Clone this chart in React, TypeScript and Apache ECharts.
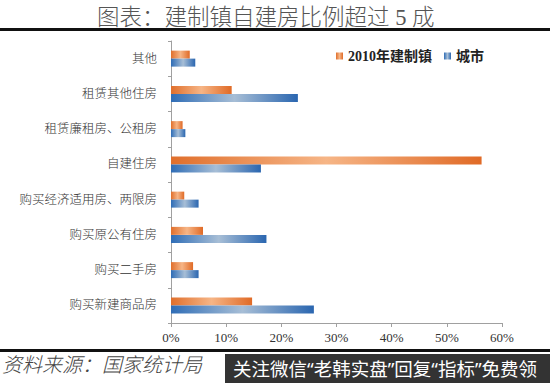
import React, { useEffect, useRef } from "react";
import * as echarts from "echarts";

const categories = [
  "购买新建商品房",
  "购买二手房",
  "购买原公有住房",
  "购买经济适用房、两限房",
  "自建住房",
  "租赁廉租房、公租房",
  "租赁其他住房",
  "其他",
];
const townValues = [14.7, 4.0, 5.8, 2.4, 56.3, 2.1, 11.0, 3.4];
const cityValues = [25.9, 5.0, 17.3, 5.0, 16.3, 2.6, 23.0, 4.4];
const xTicks = [0, 10, 20, 30, 40, 50, 60];
const seriesNames = ["2010年建制镇", "城市"];

const serif = "'Liberation Serif', 'DejaVu Serif', 'Noto Sans CJK SC', serif";

export default function App() {
  const ref = useRef<HTMLDivElement>(null);
  useEffect(() => {
    document.body.style.margin = "0";
    if (!ref.current) return;
    const chart = echarts.init(ref.current, undefined, { renderer: "svg" });
    const orange = new echarts.graphic.LinearGradient(0, 0, 1, 0, [
      { offset: 0, color: "#E06F2C" },
      { offset: 0.5, color: "#F6B586" },
      { offset: 1, color: "#E06A26" },
    ]);
    const blue = new echarts.graphic.LinearGradient(0, 0, 1, 0, [
      { offset: 0, color: "#2F6DB6" },
      { offset: 0.5, color: "#A7BED6" },
      { offset: 1, color: "#2A66B0" },
    ]);
    chart.setOption({
      animation: false,
      backgroundColor: "#ffffff",
      title: {
        text: "图表：建制镇自建房比例超过 5 成",
        left: 92,
        top: 1,
        textStyle: {
          fontFamily: serif,
          fontSize: 22.5,
          fontWeight: 300,
          color: "#555",
        },
      },
      legend: {
        data: seriesNames,
        left: 331,
        top: 44,
        itemWidth: 7,
        itemHeight: 7,
        itemGap: 12,
        icon: "rect",
        textStyle: {
          fontFamily: serif,
          fontSize: 14,
          fontWeight: "bold",
          color: "#222",
        },
      },
      grid: { left: 171, right: 48, top: 41, bottom: 60 },
      xAxis: {
        type: "value",
        min: xTicks[0],
        max: xTicks[xTicks.length - 1],
        interval: 10,
        splitLine: { show: false },
        axisLine: { show: true, lineStyle: { color: "#A0A0A0" } },
        axisTick: { show: true, length: 4, lineStyle: { color: "#A0A0A0" } },
        axisLabel: {
          formatter: "{value}%",
          fontFamily: serif,
          fontSize: 13,
          color: "#333",
          margin: 8,
        },
      },
      yAxis: {
        type: "category",
        data: categories,
        axisLine: { show: true, lineStyle: { color: "#A0A0A0" } },
        axisTick: { show: true, length: 3, lineStyle: { color: "#A0A0A0" } },
        axisLabel: {
          fontFamily: serif,
          fontSize: 12.5,
          fontWeight: 300,
          color: "#333",
          margin: 14,
        },
      },
      series: [
        {
          name: seriesNames[0],
          type: "bar",
          data: townValues,
          barWidth: 8,
          barGap: "0%",
          itemStyle: { color: orange },
        },
        {
          name: seriesNames[1],
          type: "bar",
          data: cityValues,
          barWidth: 8,
          barGap: "0%",
          itemStyle: { color: blue },
        },
      ],
      graphic: [
        {
          type: "rect",
          left: 0,
          top: 28,
          shape: { width: 550, height: 3 },
          style: { fill: "#111" },
        },
        {
          type: "rect",
          left: 0,
          top: 349,
          shape: { width: 550, height: 3 },
          style: { fill: "#111" },
        },
        {
          type: "text",
          left: 2,
          top: 355,
          style: {
            text: "资料来源：国家统计局",
            fontFamily: serif,
            fontStyle: "italic",
            fontSize: 20,
            fontWeight: 300,
            fill: "#444",
          },
        },
        {
          type: "rect",
          left: 225,
          top: 354,
          shape: { width: 325, height: 29 },
          style: { fill: "#333333" },
        },
        {
          type: "text",
          left: 233,
          top: 357,
          style: {
            text: "关注微信“老韩实盘”回复“指标”免费领",
            fontFamily: "'Noto Sans', 'Noto Sans CJK SC', sans-serif",
            fontSize: 18.5,
            lineHeight: 22,
            fill: "#ffffff",
          },
        },
      ],
    });
    return () => chart.dispose();
  }, []);
  return (
    <div
      ref={ref}
      style={{ position: "fixed", left: 0, top: 0, width: 550, height: 383 }}
    />
  );
}
